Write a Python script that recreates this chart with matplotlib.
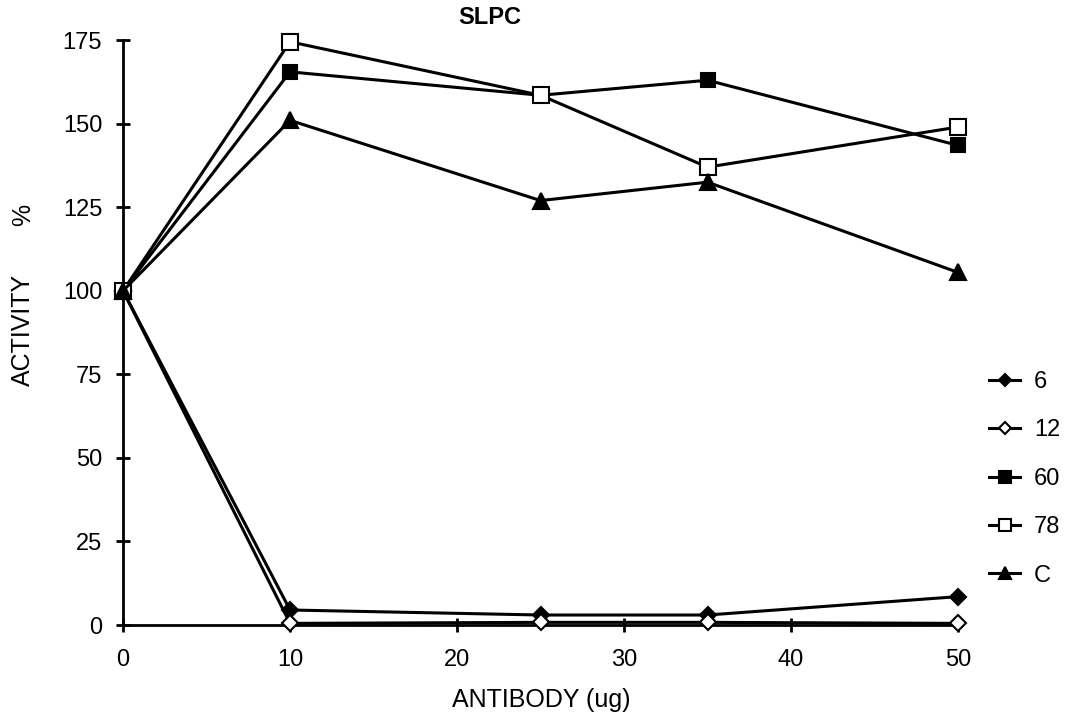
import matplotlib
matplotlib.use('Agg')
import matplotlib.pyplot as plt

plt.rcParams['font.family'] = ['Liberation Sans', 'DejaVu Sans']

# antibody amount (ug) and % activity per series
antibody = [0, 10, 25, 35, 50]
act_6 = [100, 4.5, 3, 3, 8.5]
act_12 = [100, 0.5, 0.8, 0.8, 0.5]
act_60 = [100, 165.5, 158.5, 163, 143.5]
act_78 = [100, 174.5, 158.5, 137, 149]
act_c = [100, 151, 127, 132.5, 105.5]
labels = ['6', '12', '60', '78', 'C']

fig = plt.figure(figsize=(10.83, 7.23), dpi=100)
ax = fig.add_axes([0.1136, 0.1355, 0.771, 0.809])

styles = [
    (act_6, 'D', 'black', 8),
    (act_12, 'D', 'white', 8),
    (act_60, 's', 'black', 10),
    (act_78, 's', 'white', 11),
    (act_c, '^', 'black', 11),
]
for (vals, mk, fc, ms), lab in zip(styles, labels):
    ax.plot(antibody, vals, color='black', lw=2.2, marker=mk, markersize=ms,
            markerfacecolor=fc, markeredgecolor='black', markeredgewidth=1.5,
            clip_on=False, label=lab, zorder=3)

ax.set_xlim(0, 50)
ax.set_ylim(0, 175)
ax.set_xticks(range(0, 51, 10))
ax.set_yticks(range(0, 176, 25))
ax.spines['top'].set_visible(False)
ax.spines['right'].set_visible(False)
ax.spines['left'].set_linewidth(2)
ax.spines['bottom'].set_linewidth(2)
ax.tick_params(direction='inout', length=10, width=2, labelsize=17)
ax.tick_params(axis='y', pad=10)
ax.tick_params(axis='x', pad=12)

fig.text(0.452, 1 - 18 / 723, 'SLPC', fontsize=17, fontweight='bold',
         ha='center', va='center')
fig.text(0.5, 1 - 700 / 723, 'ANTIBODY (ug)', fontsize=18,
         ha='center', va='center')
fig.text(0.021, 1 - 330 / 723, 'ACTIVITY', fontsize=18,
         rotation=90, ha='center', va='center')
fig.text(0.021, 1 - 215 / 723, '%', fontsize=18,
         rotation=90, ha='center', va='center')

ax.legend(loc='center left', bbox_to_anchor=(1.012, 0.25), frameon=False,
          fontsize=17, handlelength=1.3, labelspacing=1.12, handletextpad=0.6,
          markerscale=0.8)

fig.savefig('out.png', dpi=100)
